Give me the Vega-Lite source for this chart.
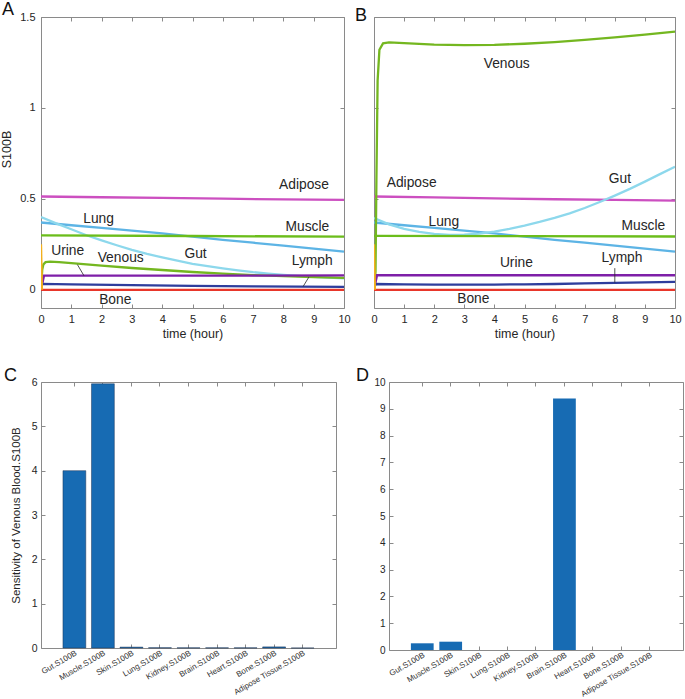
{
  "$schema": "https://vega.github.io/schema/vega-lite/v6.json",
  "autosize": {"type": "pad"},
  "padding": {"left": 0, "top": 1, "right": 0, "bottom": 0},
  "background": "white",
  "datasets": {
    "lineA": [
      {"s":"Adipose","t":0,"v":0.513},{"s":"Adipose","t":2,"v":0.509},{"s":"Adipose","t":4,"v":0.505},{"s":"Adipose","t":6,"v":0.501},{"s":"Adipose","t":8,"v":0.497},{"s":"Adipose","t":10,"v":0.494},
      {"s":"Lung","t":0,"v":0.37},{"s":"Lung","t":1,"v":0.355},{"s":"Lung","t":2,"v":0.34},{"s":"Lung","t":3,"v":0.325},{"s":"Lung","t":4,"v":0.31},{"s":"Lung","t":5,"v":0.292},{"s":"Lung","t":6,"v":0.275},{"s":"Lung","t":7,"v":0.259},{"s":"Lung","t":8,"v":0.243},{"s":"Lung","t":9,"v":0.227},{"s":"Lung","t":10,"v":0.21},
      {"s":"Gut","t":0,"v":0.4},{"s":"Gut","t":0.5,"v":0.365},{"s":"Gut","t":1,"v":0.333},{"s":"Gut","t":1.5,"v":0.3},{"s":"Gut","t":2,"v":0.272},{"s":"Gut","t":2.5,"v":0.245},{"s":"Gut","t":3,"v":0.22},{"s":"Gut","t":3.5,"v":0.197},{"s":"Gut","t":4,"v":0.178},{"s":"Gut","t":4.5,"v":0.16},{"s":"Gut","t":5,"v":0.143},{"s":"Gut","t":5.5,"v":0.13},{"s":"Gut","t":6,"v":0.118},{"s":"Gut","t":6.5,"v":0.107},{"s":"Gut","t":7,"v":0.097},{"s":"Gut","t":7.5,"v":0.089},{"s":"Gut","t":8,"v":0.082},{"s":"Gut","t":8.5,"v":0.076},{"s":"Gut","t":9,"v":0.071},{"s":"Gut","t":9.5,"v":0.067},{"s":"Gut","t":10,"v":0.063},
      {"s":"Muscle","t":0,"v":0.299},{"s":"Muscle","t":5,"v":0.296},{"s":"Muscle","t":10,"v":0.292},
      {"s":"Venous","t":0,"v":0},{"s":"Venous","t":0.04,"v":0.11},{"s":"Venous","t":0.08,"v":0.14},{"s":"Venous","t":0.15,"v":0.152},{"s":"Venous","t":0.3,"v":0.155},{"s":"Venous","t":0.6,"v":0.152},{"s":"Venous","t":1,"v":0.147},{"s":"Venous","t":1.5,"v":0.14},{"s":"Venous","t":2,"v":0.133},{"s":"Venous","t":3,"v":0.12},{"s":"Venous","t":4,"v":0.109},{"s":"Venous","t":5,"v":0.098},{"s":"Venous","t":6,"v":0.089},{"s":"Venous","t":7,"v":0.081},{"s":"Venous","t":8,"v":0.075},{"s":"Venous","t":9,"v":0.07},{"s":"Venous","t":10,"v":0.066},
      {"s":"Urine","t":0,"v":0},{"s":"Urine","t":0.1,"v":0.078},{"s":"Urine","t":5,"v":0.078},{"s":"Urine","t":10,"v":0.079},
      {"s":"Lymph","t":0,"v":0},{"s":"Lymph","t":0.02,"v":0.033},{"s":"Lymph","t":1,"v":0.03},{"s":"Lymph","t":3,"v":0.026},{"s":"Lymph","t":5,"v":0.022},{"s":"Lymph","t":7,"v":0.019},{"s":"Lymph","t":10,"v":0.016},
      {"s":"Bone","t":0,"v":0},{"s":"Bone","t":10,"v":0},
      {"s":"Spike","t":0,"v":0.25},{"s":"Spike","t":0.03,"v":0}
    ],
    "lineB": [
      {"s":"Adipose","t":0,"v":0.513},{"s":"Adipose","t":2,"v":0.508},{"s":"Adipose","t":4,"v":0.503},{"s":"Adipose","t":6,"v":0.498},{"s":"Adipose","t":8,"v":0.494},{"s":"Adipose","t":10,"v":0.49},
      {"s":"Lung","t":0,"v":0.37},{"s":"Lung","t":1,"v":0.355},{"s":"Lung","t":2,"v":0.34},{"s":"Lung","t":3,"v":0.325},{"s":"Lung","t":4,"v":0.31},{"s":"Lung","t":5,"v":0.292},{"s":"Lung","t":6,"v":0.275},{"s":"Lung","t":7,"v":0.259},{"s":"Lung","t":8,"v":0.243},{"s":"Lung","t":9,"v":0.227},{"s":"Lung","t":10,"v":0.21},
      {"s":"Gut","t":0,"v":0.395},{"s":"Gut","t":0.5,"v":0.36},{"s":"Gut","t":1,"v":0.335},{"s":"Gut","t":1.5,"v":0.318},{"s":"Gut","t":2,"v":0.307},{"s":"Gut","t":2.5,"v":0.302},{"s":"Gut","t":3,"v":0.303},{"s":"Gut","t":3.5,"v":0.309},{"s":"Gut","t":4,"v":0.32},{"s":"Gut","t":4.5,"v":0.335},{"s":"Gut","t":5,"v":0.353},{"s":"Gut","t":5.5,"v":0.373},{"s":"Gut","t":6,"v":0.395},{"s":"Gut","t":6.5,"v":0.42},{"s":"Gut","t":7,"v":0.45},{"s":"Gut","t":7.5,"v":0.483},{"s":"Gut","t":8,"v":0.518},{"s":"Gut","t":8.5,"v":0.555},{"s":"Gut","t":9,"v":0.595},{"s":"Gut","t":9.5,"v":0.636},{"s":"Gut","t":10,"v":0.677},
      {"s":"Muscle","t":0,"v":0.297},{"s":"Muscle","t":5,"v":0.295},{"s":"Muscle","t":10,"v":0.293},
      {"s":"Venous","t":0,"v":0},{"s":"Venous","t":0.05,"v":0.1},{"s":"Venous","t":0.08,"v":0.6},{"s":"Venous","t":0.12,"v":1.15},{"s":"Venous","t":0.18,"v":1.32},{"s":"Venous","t":0.3,"v":1.355},{"s":"Venous","t":0.5,"v":1.36},{"s":"Venous","t":1,"v":1.356},{"s":"Venous","t":2,"v":1.348},{"s":"Venous","t":3,"v":1.345},{"s":"Venous","t":4,"v":1.347},{"s":"Venous","t":5,"v":1.353},{"s":"Venous","t":6,"v":1.362},{"s":"Venous","t":7,"v":1.374},{"s":"Venous","t":8,"v":1.388},{"s":"Venous","t":9,"v":1.403},{"s":"Venous","t":10,"v":1.42},
      {"s":"Urine","t":0,"v":0},{"s":"Urine","t":0.1,"v":0.08},{"s":"Urine","t":5,"v":0.08},{"s":"Urine","t":10,"v":0.08},
      {"s":"Lymph","t":0,"v":0},{"s":"Lymph","t":0.05,"v":0.032},{"s":"Lymph","t":1,"v":0.03},{"s":"Lymph","t":2,"v":0.029},{"s":"Lymph","t":3,"v":0.028},{"s":"Lymph","t":4,"v":0.029},{"s":"Lymph","t":5,"v":0.03},{"s":"Lymph","t":6,"v":0.032},{"s":"Lymph","t":7,"v":0.035},{"s":"Lymph","t":8,"v":0.038},{"s":"Lymph","t":9,"v":0.041},{"s":"Lymph","t":10,"v":0.044},
      {"s":"Bone","t":0,"v":0},{"s":"Bone","t":10,"v":0},
      {"s":"Spike","t":0,"v":0.25},{"s":"Spike","t":0.03,"v":0}
    ],
    "labA": [
      {"t":8.68,"v":0.577,"label":"Adipose"},{"t":1.9,"v":0.387,"label":"Lung"},{"t":8.79,"v":0.343,"label":"Muscle"},{"t":0.88,"v":0.213,"label":"Urine"},{"t":2.63,"v":0.177,"label":"Venous"},{"t":5.1,"v":0.196,"label":"Gut"},{"t":8.95,"v":0.156,"label":"Lymph"},{"t":2.45,"v":-0.058,"label":"Bone"}
    ],
    "labB": [
      {"t":4.41,"v":1.242,"label":"Venous"},{"t":1.25,"v":0.586,"label":"Adipose"},{"t":8.17,"v":0.608,"label":"Gut"},{"t":2.32,"v":0.375,"label":"Lung"},{"t":8.95,"v":0.35,"label":"Muscle"},{"t":4.73,"v":0.145,"label":"Urine"},{"t":8.24,"v":0.174,"label":"Lymph"},{"t":3.3,"v":-0.053,"label":"Bone"}
    ],
    "leadA": [
      {"t":1.2,"v":0.139,"t2":1.42,"v2":0.077},{"t":8.84,"v":0.07,"t2":8.65,"v2":0.018}
    ],
    "leadB": [
      {"t":8.0,"v":0.119,"t2":8.0,"v2":0.04}
    ],
    "barC": [
      {"name":"Gut.S100B","value":4.0},{"name":"Muscle.S100B","value":5.96},{"name":"Skin.S100B","value":0.02},{"name":"Lung.S100B","value":0.006},{"name":"Kidney.S100B","value":0.004},{"name":"Brain.S100B","value":0.004},{"name":"Heart.S100B","value":0.004},{"name":"Bone.S100B","value":0.025},{"name":"Adipose Tissue.S100B","value":0}
    ],
    "barD": [
      {"name":"Gut.S100B","value":0.25},{"name":"Muscle.S100B","value":0.31},{"name":"Skin.S100B","value":0},{"name":"Lung.S100B","value":0},{"name":"Kidney.S100B","value":0},{"name":"Brain.S100B","value":9.38},{"name":"Heart.S100B","value":0},{"name":"Bone.S100B","value":0},{"name":"Adipose Tissue.S100B","value":0}
    ]
  },
  "spacing": 4,
  "hconcat": [
    {
      "concat": [
        {
          "width": 303, "height": 291,
          "title": {"text": "A", "dx": -39},
          "layer": [
            {
              "data": {"name": "lineA"},
              "mark": {"type": "line", "strokeWidth": 2.3, "clip": true},
              "encoding": {
                "x": {"field": "t", "type": "quantitative", "scale": {"domain": [0, 10], "nice": false},
                      "axis": {"values": [0,1,2,3,4,5,6,7,8,9,10], "title": "time (hour)", "labelPadding": 9, "titlePadding": 3}},
                "y": {"field": "v", "type": "quantitative", "scale": {"domain": [-0.1, 1.5], "nice": false, "zero": false},
                      "axis": {"values": [0, 0.5, 1, 1.5], "format": "~g", "title": "S100B", "labelPadding": 10, "titlePadding": 6, "titleY": 132}},
                "color": {"field": "s", "type": "nominal", "legend": null,
                          "scale": {"domain": ["Adipose","Lung","Gut","Muscle","Venous","Urine","Lymph","Bone","Spike"],
                                    "range": ["#cc4fc0","#5db4e5","#8dd8ec","#6bbd1b","#74b720","#7e1fa8","#2e3d9c","#e8362a","#f2b01e"]}}
              }
            },
            {
              "data": {"name": "leadA"},
              "mark": {"type": "rule", "color": "#262626", "strokeWidth": 0.8},
              "encoding": {
                "x": {"field": "t", "type": "quantitative", "scale": {"domain": [0, 10], "nice": false}, "axis": null},
                "y": {"field": "v", "type": "quantitative", "scale": {"domain": [-0.1, 1.5], "nice": false, "zero": false}, "axis": null},
                "x2": {"field": "t2"}, "y2": {"field": "v2"}
              }
            },
            {
              "data": {"name": "labA"},
              "mark": {"type": "text", "fontSize": 13.8, "color": "#262626", "font": "Liberation Sans"},
              "encoding": {
                "x": {"field": "t", "type": "quantitative", "scale": {"domain": [0, 10], "nice": false}, "axis": null},
                "y": {"field": "v", "type": "quantitative", "scale": {"domain": [-0.1, 1.5], "nice": false, "zero": false}, "axis": null},
                "text": {"field": "label"}
              }
            },
            {
              "data": {"name": "leadA"},
              "mark": {"type": "point", "opacity": 0},
              "encoding": {
                "x": {"field": "t", "type": "quantitative", "scale": {"domain": [0, 10], "nice": false},
                      "axis": {"orient": "top", "labels": false, "title": null, "values": [0,1,2,3,4,5,6,7,8,9,10]}},
                "y": {"field": "v", "type": "quantitative", "scale": {"domain": [-0.1, 1.5], "nice": false, "zero": false},
                      "axis": {"orient": "right", "labels": false, "title": null, "values": [0, 0.5, 1, 1.5]}}
              }
            }
          ],
          "resolve": {"axis": {"x": "independent", "y": "independent"}}
        },
        {
          "width": 295, "height": 266,
          "title": {"text": "C", "dx": -37},
          "data": {"name": "barC"},
          "layer": [
            {
              "mark": {"type": "bar", "color": "#176bb3", "stroke": "#1d3557", "strokeWidth": 0.5},
              "encoding": {
                "x": {"field": "name", "type": "nominal", "sort": null, "scale": {"paddingInner": 0.2, "paddingOuter": 0.77},
                      "axis": {"title": null, "labelAngle": -30, "labelFontSize": 8, "labelColor": "#333333", "labelPadding": 5, "labelOverlap": false}},
                "y": {"field": "value", "type": "quantitative", "scale": {"domain": [0, 6], "nice": false},
                      "axis": {"values": [0,1,2,3,4,5,6], "title": "Sensitivity of Venous Blood.S100B", "labelFontSize": 10.5, "titleFontSize": 11.5, "labelPadding": 8, "titlePadding": 10}}
              }
            },
            {
              "mark": {"type": "point", "opacity": 0},
              "encoding": {
                "x": {"field": "name", "type": "nominal", "sort": null, "scale": {"paddingInner": 0.2, "paddingOuter": 0.77},
                      "axis": {"orient": "top", "labels": false, "title": null}},
                "y": {"field": "value", "type": "quantitative", "scale": {"domain": [0, 6], "nice": false},
                      "axis": {"orient": "right", "labels": false, "title": null, "values": [0,1,2,3,4,5,6]}}
              }
            }
          ],
          "resolve": {"axis": {"x": "independent", "y": "independent"}}
        }
      ],
      "columns": 1,
      "align": "none",
      "spacing": 27
    },
    {
      "concat": [
        {
          "width": 301, "height": 291,
          "title": {"text": "B", "dx": -19},
          "layer": [
            {
              "data": {"name": "lineB"},
              "mark": {"type": "line", "strokeWidth": 2.3, "clip": true},
              "encoding": {
                "x": {"field": "t", "type": "quantitative", "scale": {"domain": [0, 10], "nice": false},
                      "axis": {"values": [0,1,2,3,4,5,6,7,8,9,10], "title": "time (hour)", "labelPadding": 9, "titlePadding": 3}},
                "y": {"field": "v", "type": "quantitative", "scale": {"domain": [-0.1, 1.5], "nice": false, "zero": false},
                      "axis": {"values": [0, 0.5, 1, 1.5], "labels": false, "title": null}},
                "color": {"field": "s", "type": "nominal", "legend": null,
                          "scale": {"domain": ["Adipose","Lung","Gut","Muscle","Venous","Urine","Lymph","Bone","Spike"],
                                    "range": ["#cc4fc0","#5db4e5","#8dd8ec","#6bbd1b","#74b720","#7e1fa8","#2e3d9c","#e8362a","#f2b01e"]}}
              }
            },
            {
              "data": {"name": "leadB"},
              "mark": {"type": "rule", "color": "#262626", "strokeWidth": 0.8},
              "encoding": {
                "x": {"field": "t", "type": "quantitative", "scale": {"domain": [0, 10], "nice": false}, "axis": null},
                "y": {"field": "v", "type": "quantitative", "scale": {"domain": [-0.1, 1.5], "nice": false, "zero": false}, "axis": null},
                "x2": {"field": "t2"}, "y2": {"field": "v2"}
              }
            },
            {
              "data": {"name": "labB"},
              "mark": {"type": "text", "fontSize": 13.8, "color": "#262626", "font": "Liberation Sans"},
              "encoding": {
                "x": {"field": "t", "type": "quantitative", "scale": {"domain": [0, 10], "nice": false}, "axis": null},
                "y": {"field": "v", "type": "quantitative", "scale": {"domain": [-0.1, 1.5], "nice": false, "zero": false}, "axis": null},
                "text": {"field": "label"}
              }
            },
            {
              "data": {"name": "leadB"},
              "mark": {"type": "point", "opacity": 0},
              "encoding": {
                "x": {"field": "t", "type": "quantitative", "scale": {"domain": [0, 10], "nice": false},
                      "axis": {"orient": "top", "labels": false, "title": null, "values": [0,1,2,3,4,5,6,7,8,9,10]}},
                "y": {"field": "v", "type": "quantitative", "scale": {"domain": [-0.1, 1.5], "nice": false, "zero": false},
                      "axis": {"orient": "right", "labels": false, "title": null, "values": [0, 0.5, 1, 1.5]}}
              }
            }
          ],
          "resolve": {"axis": {"x": "independent", "y": "independent"}}
        },
        {
          "width": 309, "height": 268,
          "title": {"text": "D", "dx": -18},
          "data": {"name": "barD"},
          "layer": [
            {
              "mark": {"type": "bar", "color": "#176bb3"},
              "encoding": {
                "x": {"field": "name", "type": "nominal", "sort": null, "scale": {"paddingInner": 0.2, "paddingOuter": 0.77, "range": [15, 309]},
                      "axis": {"title": null, "labelAngle": -30, "labelFontSize": 8, "labelColor": "#333333", "labelPadding": 5, "labelOverlap": false}},
                "y": {"field": "value", "type": "quantitative", "scale": {"domain": [0, 10], "nice": false},
                      "axis": {"values": [0,1,2,3,4,5,6,7,8,9,10], "title": null, "labelFontSize": 10, "labelPadding": 8, "offset": -15}}
              }
            },
            {
              "mark": {"type": "point", "opacity": 0},
              "encoding": {
                "x": {"field": "name", "type": "nominal", "sort": null, "scale": {"paddingInner": 0.2, "paddingOuter": 0.77, "range": [15, 309]},
                      "axis": {"orient": "top", "labels": false, "title": null}},
                "y": {"field": "value", "type": "quantitative", "scale": {"domain": [0, 10], "nice": false},
                      "axis": {"orient": "right", "labels": false, "title": null, "values": [0,1,2,3,4,5,6,7,8,9,10]}}
              }
            }
          ],
          "resolve": {"axis": {"x": "independent", "y": "independent"}}
        }
      ],
      "columns": 1,
      "align": "none",
      "spacing": 27
    }
  ],
  "config": {
    "font": "Liberation Sans",
    "view": {"stroke": null},
    "axis": {
      "domainColor": "#8a8a8a", "domainWidth": 1, "tickColor": "#8a8a8a", "tickSize": -4,
      "labelColor": "#262626", "titleColor": "#262626", "labelFontSize": 11, "titleFontSize": 12.5,
      "titleFontWeight": "normal", "labelFont": "Liberation Sans", "titleFont": "Liberation Sans",
      "grid": false, "labelFlush": false, "labelOverlap": false, "minExtent": 0
    },
    "title": {"fontSize": 18, "fontWeight": "normal", "anchor": "start", "frame": "group", "color": "#111111",
              "font": "Liberation Sans", "offset": -8, "baseline": "alphabetic"}
  }
}
